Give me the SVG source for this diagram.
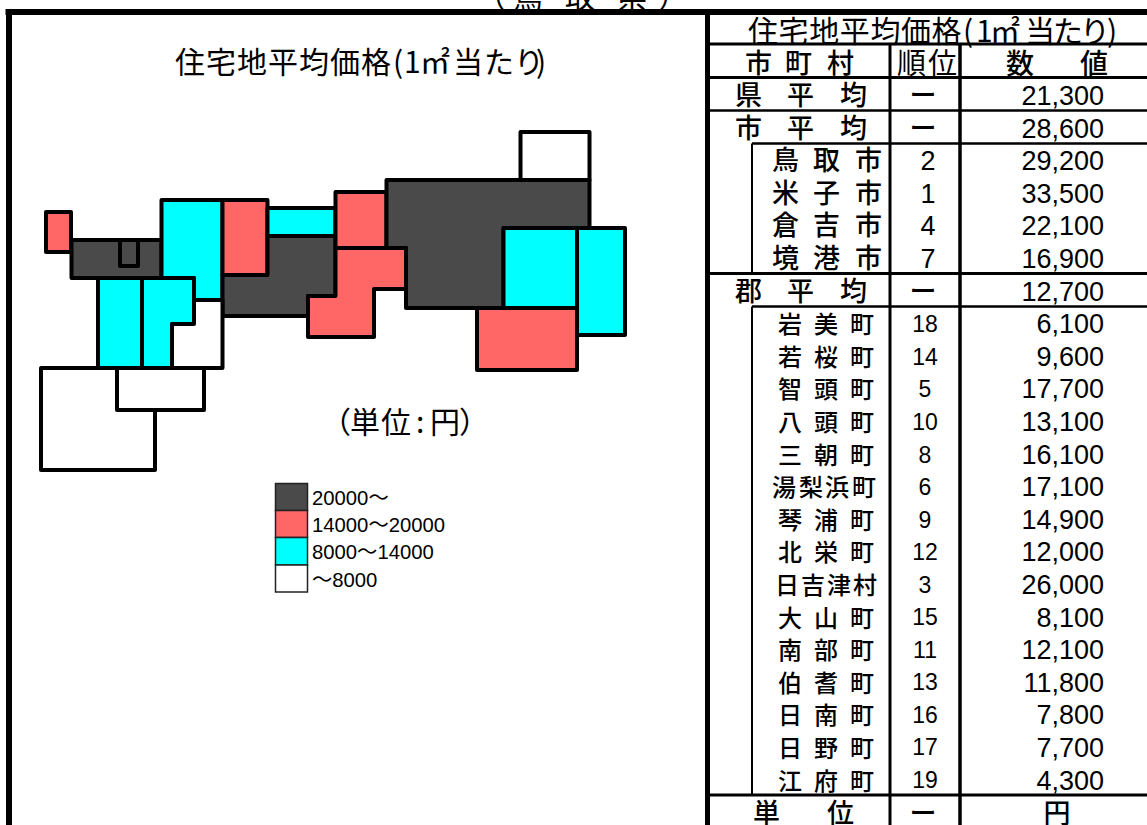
<svg xmlns="http://www.w3.org/2000/svg" width="1147" height="825" viewBox="0 0 1147 825">
<style>
text{font-family:"Noto Sans CJK JP","Liberation Sans",sans-serif;fill:#000}
.n{font-family:"Liberation Sans","Noto Sans CJK JP",sans-serif;font-size:27px}
.v{text-anchor:end}
.r{text-anchor:middle}
.s{font-size:23px}
.k{font-size:27px;font-weight:500}
.t{font-size:24px;font-weight:500}
.h{font-size:30px}
.lg{font-family:"Liberation Sans","Noto Sans CJK JP",sans-serif;font-size:20.300px}
.m{stroke:#000;stroke-width:4;stroke-linejoin:round}
.d{fill:#4a4a4a}.p{fill:#ff6666}.c{fill:#00ffff}.w{fill:#fff}
.b{stroke:#000;fill:none}
.ls{stroke:#222;stroke-width:1.5}
</style>
<rect width="1147" height="825" fill="#fff"/>
<text id="pref" class="h" y="8" x="476 513 565 617 658">（鳥取県）</text>
<text id="table-title" class="h" y="41.500" x="748 778.600 809.200 839.800 870.400 901 931.600 963 976 990 1025 1053 1080 1107">住宅地平均価格(1㎡当たり)</text>
<g id="frame"><rect x="5.500" y="9" width="1141.500" height="6"/><rect x="6" y="9" width="6" height="816"/><rect x="705" y="9" width="5" height="816"/></g>
<text id="title" class="h" y="73" x="175 206 237 268 299 330 361 393 404 420 453 484 514 536">住宅地平均価格(1㎡当たり)</text>
<g id="map">
<rect id="a1" class="m w" x="520.500" y="132" width="69" height="48"/>
<rect id="a2" class="m p" x="46" y="212" width="25" height="40"/>
<rect id="a3" class="m d" x="71.500" y="240" width="90" height="38"/>
<path id="a4" class="m d" d="M120 240H138V266H120Z"/>
<path id="a5" class="m c" d="M161.500 200H222.500V300H194V278H161.500Z"/>
<rect id="a6" class="m p" x="222.500" y="200" width="45" height="75"/>
<rect id="a7" class="m c" x="267.500" y="208" width="68" height="28"/>
<path id="a8" class="m d" d="M267.500 236H335.500V296H308V316H222.500V275H267.500Z"/>
<rect id="a9" class="m p" x="335.500" y="192" width="51" height="56"/>
<path id="a10" class="m d" d="M386.500 180H589.500V228H503.500V308H406V248H386.500Z"/>
<path id="a11" class="m p" d="M335.500 248H406V289H374V337H308V296H335.500Z"/>
<rect id="a12" class="m c" x="503.500" y="228" width="74" height="80"/>
<rect id="a13" class="m c" x="577" y="228" width="48" height="107"/>
<rect id="a14" class="m p" x="477" y="308" width="100" height="62"/>
<rect id="a15" class="m c" x="98" y="278" width="44" height="90"/>
<path id="a16" class="m c" d="M142 278H194V324H172V368H142Z"/>
<path id="a17" class="m w" d="M194 300H222.500V368H172V324H194Z"/>
<rect id="a18" class="m w" x="41" y="368" width="114" height="102"/>
<rect id="a19" class="m w" x="117" y="368" width="87" height="42"/>
</g>
<text id="unit" font-size="30" y="433" x="321 350 381 416 430 459">（単位:円）</text>
<g id="legend">
<rect class="ls d" x="275.500" y="483.500" width="32" height="27"/>
<rect class="ls p" x="275.500" y="510.500" width="32" height="27"/>
<rect class="ls c" x="275.500" y="537.500" width="32" height="27.500"/>
<rect class="ls w" x="275.500" y="565" width="32" height="27"/>
<text class="lg" x="312" y="505">20000～</text>
<text class="lg" x="312" y="532">14000～20000</text>
<text class="lg" x="312" y="559">8000～14000</text>
<text class="lg" x="312" y="587">～8000</text>
</g>
<g id="table">
<g id="grid">
<path class="b" stroke-width="3" d="M710 44H1147M710 77.500H1147M710 273.500H1147M710 795H1147"/>
<path class="b" stroke-width="2.500" d="M710 110.500H1147M752 143.500H1147M752 306.500H1147"/>
<path class="b" stroke-width="2" d="M752 143.500V273.500M752 306.500V795"/>
<path class="b" stroke-width="3" d="M890 44V825"/>
<path class="b" stroke-width="3.500" d="M960 44V825"/>
</g>
<text class="k" y="73" x="745 785 827">市町村</text>
<text class="h" y="73.500" x="897 928" style="font-size:29px">順位</text>
<text class="k" y="73.500" x="1006 1080" style="font-size:28px">数値</text>

<text class="k" y="105" x="735 787 840">県平均</text><text class="k r" y="105" x="923">ー</text><text class="n v" y="105" x="1104">21,300</text>
<text class="k" y="137.600" x="735 787 840">市平均</text><text class="k r" y="137.600" x="923">ー</text><text class="n v" y="137.600" x="1104">28,600</text>
<text class="k" y="170.200" x="772 813 855">鳥取市</text><text class="n r" y="170.200" x="928">2</text><text class="n v" y="170.200" x="1104">29,200</text>
<text class="k" y="202.800" x="772 813 855">米子市</text><text class="n r" y="202.800" x="928">1</text><text class="n v" y="202.800" x="1104">33,500</text>
<text class="k" y="235.400" x="772 813 855">倉吉市</text><text class="n r" y="235.400" x="928">4</text><text class="n v" y="235.400" x="1104">22,100</text>
<text class="k" y="268" x="772 813 855">境港市</text><text class="n r" y="268" x="928">7</text><text class="n v" y="268" x="1104">16,900</text>
<text class="k" y="300.600" x="735 787 840">郡平均</text><text class="k r" y="300.600" x="923">ー</text><text class="n v" y="300.600" x="1104">12,700</text>
<text class="t" y="333.200" x="778 814 850">岩美町</text><text class="n s r" y="332" x="925">18</text><text class="n v" y="333.200" x="1104">6,100</text>
<text class="t" y="365.800" x="778 814 850">若桜町</text><text class="n s r" y="365" x="925">14</text><text class="n v" y="365.800" x="1104">9,600</text>
<text class="t" y="398.400" x="778 814 850">智頭町</text><text class="n s r" y="397" x="925">5</text><text class="n v" y="398.400" x="1104">17,700</text>
<text class="t" y="431" x="778 814 850">八頭町</text><text class="n s r" y="430" x="925">10</text><text class="n v" y="431" x="1104">13,100</text>
<text class="t" y="463.600" x="778 814 850">三朝町</text><text class="n s r" y="463" x="925">8</text><text class="n v" y="463.600" x="1104">16,100</text>
<text class="t" y="496.200" x="772 799 825 852">湯梨浜町</text><text class="n s r" y="495" x="925">6</text><text class="n v" y="496.200" x="1104">17,100</text>
<text class="t" y="528.800" x="778 814 850">琴浦町</text><text class="n s r" y="528" x="925">9</text><text class="n v" y="528.800" x="1104">14,900</text>
<text class="t" y="561.400" x="778 814 850">北栄町</text><text class="n s r" y="560" x="925">12</text><text class="n v" y="561.400" x="1104">12,000</text>
<text class="t" y="594" x="775 801 827 853">日吉津村</text><text class="n s r" y="593" x="925">3</text><text class="n v" y="594" x="1104">26,000</text>
<text class="t" y="626.600" x="778 814 850">大山町</text><text class="n s r" y="625" x="925">15</text><text class="n v" y="626.600" x="1104">8,100</text>
<text class="t" y="659.200" x="778 814 850">南部町</text><text class="n s r" y="658" x="925">11</text><text class="n v" y="659.200" x="1104">12,100</text>
<text class="t" y="691.800" x="778 814 850">伯耆町</text><text class="n s r" y="690" x="925">13</text><text class="n v" y="691.800" x="1104">11,800</text>
<text class="t" y="724.400" x="778 814 850">日南町</text><text class="n s r" y="723" x="925">16</text><text class="n v" y="724.400" x="1104">7,800</text>
<text class="t" y="757" x="778 814 850">日野町</text><text class="n s r" y="755" x="925">17</text><text class="n v" y="757" x="1104">7,700</text>
<text class="t" y="789.600" x="778 814 850">江府町</text><text class="n s r" y="788" x="925">19</text><text class="n v" y="789.600" x="1104">4,300</text>
<text class="k" y="823" x="753 827">単位</text><text class="k r" y="823" x="923">ー</text><text class="k r" y="823" x="1057">円</text>
</g>
</svg>
